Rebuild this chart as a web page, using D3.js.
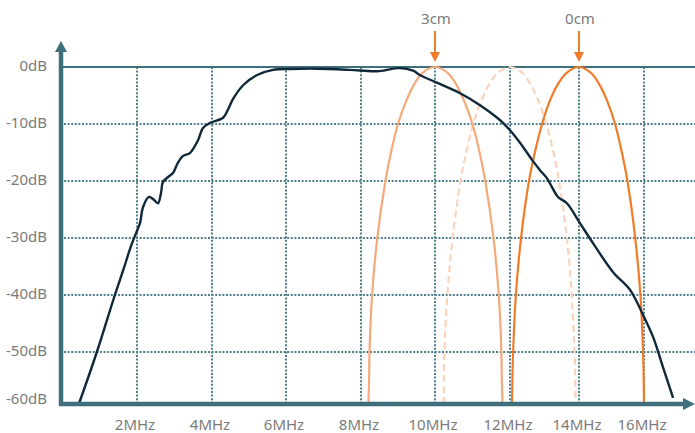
<!DOCTYPE html>
<html>
<head>
<meta charset="utf-8">
<script src="https://cdn.jsdelivr.net/npm/d3@7"></script>
<style>
  body { margin: 0; background: #fff; }
  text { font-family: "Noto Sans", "Open Sans", sans-serif; font-size: 15px; fill: #7b7b7b; }
</style>
</head>
<body>
<div class="grafica"></div>
<script>
// ejes
var xTicks = [2, 4, 6, 8, 10, 12, 14, 16];
var xLabels = ["2MHz", "4MHz", "6MHz", "8MHz", "10MHz", "12MHz", "14MHz", "16MHz"];
var yTicks = [0, -10, -20, -30, -40, -50, -60];
var yLabels = ["0dB", "-10dB", "-20dB", "-30dB", "-40dB", "-50dB", "-60dB"];

// respuesta del transductor [MHz, dB]
var signalCurve = [
  [0.45, -60], [0.93, -50], [1.41, -40], [1.65, -35.3], [1.83, -31.6], [1.99, -28.9],
  [2.08, -27.4], [2.16, -24.6], [2.32, -22.8], [2.45, -23.3], [2.56, -23.9], [2.64, -22.1],
  [2.69, -20.2], [2.83, -19.3], [2.96, -18.6], [3.09, -16.8], [3.23, -15.6], [3.41, -15.1],
  [3.63, -12.8], [3.76, -10.7], [3.95, -9.8], [4.3, -8.9], [4.43, -7.5], [4.57, -5.6],
  [4.84, -3.2], [5.22, -1.4], [5.65, -0.5], [6.11, -0.35], [6.84, -0.3], [7.7, -0.5],
  [8.43, -0.75], [9.05, -0.2], [9.41, -0.65], [9.59, -1.4], [10, -2.6], [10.67, -4.6],
  [11.2, -6.7], [11.73, -9.3], [12, -11.1], [12.29, -13.3], [12.64, -16.3], [12.87, -18.1],
  [13.07, -19.5], [13.22, -21.1], [13.39, -22.8], [13.65, -23.9], [14.03, -27.4], [14.43, -30.9],
  [15.05, -36], [15.57, -39.1], [15.97, -43.5], [16.28, -47.4], [16.58, -52.9], [16.89, -58.8]
];

// eco a 3cm
var curve3cm = [
  [8.2, -60], [8.22, -55], [8.23, -50], [8.3, -40], [8.44, -30], [8.66, -20], [8.81, -15],
  [9.0, -10], [9.22, -6], [9.44, -3], [9.67, -1], [10, 0], [10.33, -1], [10.56, -3],
  [10.78, -6], [11.0, -10], [11.19, -15], [11.34, -20], [11.56, -30], [11.7, -40],
  [11.77, -50], [11.78, -55], [11.8, -60]
];

// eco intermedio (discontinuo)
var curveMid = [
  [10.23, -60], [10.24, -55], [10.25, -50], [10.33, -40], [10.47, -30], [10.68, -20], [10.83, -15],
  [11.02, -10], [11.23, -6], [11.45, -3], [11.68, -1], [12, 0], [12.35, -1], [12.59, -3],
  [12.83, -6], [13.05, -10], [13.26, -15], [13.42, -20], [13.65, -30], [13.79, -40],
  [13.87, -50], [13.89, -55], [13.9, -60]
];

// eco a 0cm
var curve0cm = [
  [12.06, -60], [12.07, -55], [12.09, -50], [12.17, -40], [12.32, -30], [12.55, -20], [12.72, -15],
  [12.93, -10], [13.15, -6], [13.39, -3], [13.65, -1], [14, 0], [14.36, -1], [14.62, -3],
  [14.87, -6], [15.11, -10], [15.32, -15], [15.49, -20], [15.73, -30], [15.89, -40],
  [15.97, -50], [15.99, -55], [16.0, -60]
];

var markers = [{ f: 10, label: "3cm" }, { f: 14, label: "0cm" }];

function graficar() {
  //tamaño de la grafica
  var w = 695;
  var h = 433;
  var teal = "#3f6f7b";
  var orange = "#f07c2a";

  var svg = d3.select(".grafica")
    .append("svg")
    .attr("width", w)
    .attr("height", h);

  // escalas (la rejilla del original no es del todo regular)
  var x = d3.scaleLinear()
    .domain([0, 2, 4, 6, 8, 10, 12, 14, 16, 17.5])
    .range([62, 137, 212, 286, 361, 435, 510, 579, 644, 693]);

  var y = d3.scaleLinear()
    .domain([0, -50, -60])
    .range([67, 352, 404]);

  // rejilla vertical punteada
  svg.selectAll(".vgrid")
    .data(xTicks)
    .enter()
    .append("line")
    .attr("class", "vgrid")
    .attr("x1", function(d) { return x(d); })
    .attr("x2", function(d) { return x(d); })
    .attr("y1", y(0))
    .attr("y2", y(-60))
    .attr("stroke", "#4f7f8b")
    .attr("stroke-width", 2)
    .attr("stroke-dasharray", "2,1.6");

  // rejilla horizontal punteada
  svg.selectAll(".hgrid")
    .data(yTicks.filter(function(d) { return d < 0 && d > -60; }))
    .enter()
    .append("line")
    .attr("class", "hgrid")
    .attr("x1", x(0) + 2)
    .attr("x2", w)
    .attr("y1", function(d) { return y(d); })
    .attr("y2", function(d) { return y(d); })
    .attr("stroke", "#4f7f8b")
    .attr("stroke-width", 2)
    .attr("stroke-dasharray", "2,1.6");

  // linea de 0dB
  svg.append("line")
    .attr("x1", x(0))
    .attr("x2", w)
    .attr("y1", y(0))
    .attr("y2", y(0))
    .attr("stroke", teal)
    .attr("stroke-width", 2.2);

  var line = d3.line()
    .x(function(d) { return x(d[0]); })
    .y(function(d) { return y(d[1]); })
    .curve(d3.curveCatmullRom.alpha(0.5));

  svg.append("path")
    .datum(curveMid)
    .attr("d", line)
    .attr("fill", "none")
    .attr("stroke", "#f9d4bc")
    .attr("stroke-width", 2.2)
    .attr("stroke-dasharray", "7,4");

  svg.append("path")
    .datum(curve3cm)
    .attr("d", line)
    .attr("fill", "none")
    .attr("stroke", "#f5aa7a")
    .attr("stroke-width", 2.2);

  svg.append("path")
    .datum(curve0cm)
    .attr("d", line)
    .attr("fill", "none")
    .attr("stroke", orange)
    .attr("stroke-width", 2.2);

  svg.append("path")
    .datum(signalCurve)
    .attr("d", line)
    .attr("fill", "none")
    .attr("stroke", "#10293a")
    .attr("stroke-width", 2.4);

  // ejes con flecha
  svg.append("line")
    .attr("x1", x(0) - 3)
    .attr("x2", 684)
    .attr("y1", y(-60))
    .attr("y2", y(-60))
    .attr("stroke", teal)
    .attr("stroke-width", 4.5);
  svg.append("path")
    .attr("d", "M683," + (y(-60) - 6) + " L695," + y(-60) + " L683," + (y(-60) + 6) + " Z")
    .attr("fill", teal);

  svg.append("line")
    .attr("x1", x(0) - 1)
    .attr("x2", x(0) - 1)
    .attr("y1", y(-60) + 2)
    .attr("y2", 51)
    .attr("stroke", teal)
    .attr("stroke-width", 4.5);
  svg.append("path")
    .attr("d", "M" + (x(0) - 7) + ",52 L" + (x(0) - 1) + ",41 L" + (x(0) + 5) + ",52 Z")
    .attr("fill", teal);

  // etiquetas
  svg.selectAll(".xlab")
    .data(xTicks)
    .enter()
    .append("text")
    .attr("class", "xlab")
    .text(function(d, i) { return xLabels[i]; })
    .attr("x", function(d) { return x(d) - 2; })
    .attr("y", 430)
    .attr("text-anchor", "middle");

  svg.selectAll(".ylab")
    .data(yTicks)
    .enter()
    .append("text")
    .attr("class", "ylab")
    .text(function(d, i) { return yLabels[i]; })
    .attr("x", 47)
    .attr("y", function(d) { return (d === -60 ? y(d) - 5 : y(d) - 1) + 5; })
    .attr("text-anchor", "end");

  // marcadores de distancia
  var mk = svg.selectAll(".marker")
    .data(markers)
    .enter()
    .append("g")
    .attr("class", "marker");

  mk.append("line")
    .attr("x1", function(d) { return x(d.f); })
    .attr("x2", function(d) { return x(d.f); })
    .attr("y1", 31)
    .attr("y2", 54)
    .attr("stroke", orange)
    .attr("stroke-width", 2);

  mk.append("path")
    .attr("d", function(d) {
      var cx = x(d.f);
      return "M" + (cx - 5) + ",52 L" + cx + ",62 L" + (cx + 5) + ",52 Z";
    })
    .attr("fill", orange);

  mk.append("text")
    .text(function(d) { return d.label; })
    .attr("x", function(d) { return x(d.f) + 1; })
    .attr("y", 24)
    .attr("text-anchor", "middle");
}

graficar();
</script>
</body>
</html>
